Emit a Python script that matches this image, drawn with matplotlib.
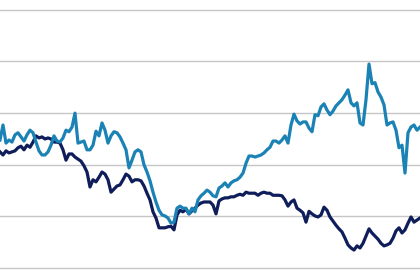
import matplotlib
matplotlib.use("Agg")
import matplotlib.pyplot as plt
import numpy as np


# two index series, one point per period
light_series = [
    84.8, 87.7, 84.2, 84.8, 84.4, 85.8, 86.2, 85.4, 84.6, 85.8,
    86.7, 86.2, 84.4, 82.7, 81.9, 81.9, 82.5, 83.8, 85.6, 84.6,
    84.4, 85.2, 86.7, 86.4, 87.3, 90.0, 84.2, 84.4, 84.6, 82.9,
    82.9, 83.8, 86.5, 85.6, 88.1, 86.7, 84.2, 85.6, 86.4, 86.2,
    85.4, 84.2, 82.9, 79.4, 80.9, 82.5, 82.9, 82.5, 80.0, 78.6,
    76.9, 74.7, 72.8, 71.2, 70.3, 70.1, 69.7, 68.7, 68.9, 71.6,
    72.0, 71.6, 71.6, 70.5, 71.6, 70.9, 73.2, 74.0, 74.5, 75.1,
    74.7, 74.0, 73.8, 75.5, 75.9, 76.5, 75.7, 76.5, 76.9, 77.1,
    77.6, 78.4, 80.3, 81.7, 81.7, 81.5, 81.7, 81.9, 82.3, 82.9,
    83.4, 84.6, 84.6, 84.2, 84.8, 85.6, 84.2, 87.7, 89.8, 88.5,
    87.9, 88.3, 88.3, 87.1, 86.4, 89.7, 89.5, 91.2, 91.8, 90.6,
    89.7, 90.4, 91.4, 92.0, 92.6, 93.5, 94.5, 92.0, 91.4, 92.0,
    88.1, 87.7, 92.6, 99.5, 95.7, 95.9, 94.1, 93.1, 91.6, 87.7,
    88.1, 88.3, 86.7, 83.3, 83.8, 78.4, 86.2, 87.3, 87.7, 86.7,
    87.3,
]

dark_series = [
    82.5, 81.9, 82.7, 82.3, 82.5, 82.7, 83.3, 83.6, 82.9, 83.8,
    83.4, 84.4, 85.6, 85.2, 85.4, 85.0, 85.2, 85.0, 84.4, 84.4,
    84.2, 82.9, 80.9, 82.1, 82.1, 81.5, 81.1, 80.7, 79.8, 78.6,
    75.7, 77.1, 76.7, 77.6, 78.6, 78.2, 77.1, 74.7, 75.3, 75.9,
    76.1, 77.1, 78.2, 77.8, 76.7, 77.1, 77.1, 76.9, 75.9, 74.5,
    73.2, 70.9, 69.7, 67.8, 67.8, 67.8, 68.0, 68.1, 67.4, 70.3,
    71.2, 70.9, 71.4, 70.5, 71.1, 71.6, 72.2, 72.6, 72.8, 72.8,
    72.8, 72.2, 70.5, 73.0, 73.4, 73.6, 73.6, 73.8, 73.8, 74.1,
    74.3, 74.1, 74.7, 74.5, 74.5, 74.5, 74.1, 74.5, 74.7, 74.5,
    74.5, 74.1, 74.1, 74.1, 74.0, 73.2, 72.0, 72.8, 73.2, 71.6,
    71.2, 70.7, 68.9, 71.0, 70.5, 70.1, 69.9, 70.3, 71.8, 71.2,
    69.9, 69.1, 68.3, 67.6, 67.0, 65.8, 64.5, 63.9, 63.5, 64.3,
    63.9, 64.8, 66.2, 67.6, 66.8, 66.2, 65.6, 64.8, 64.3, 64.5,
    64.8, 65.8, 67.2, 67.8, 66.8, 67.4, 68.7, 69.9, 68.9, 69.3,
    69.7,
]

grid_levels = [60, 70, 80, 90, 100, 110]

LIGHT = "#1a82b4"
DARK = "#0f1d5a"

fig = plt.figure(figsize=(4.2, 2.8), dpi=100)
ax = fig.add_axes([0, 0, 1, 1])

for level in grid_levels:
    ax.axhline(level, color="#c6c6c6", linewidth=1.0, zorder=1)

x_dark = np.arange(len(dark_series))
x_light = np.arange(len(light_series))
ax.plot(x_dark, dark_series, color=DARK, linewidth=2.3, zorder=2)
ax.plot(x_light, light_series, color=LIGHT, linewidth=2.3, zorder=3)

ax.set_xlim(0, len(light_series) - 1)
ax.set_ylim(57.7, 111.9)
ax.axis("off")

fig.savefig("out.png", dpi=100, facecolor="white")
